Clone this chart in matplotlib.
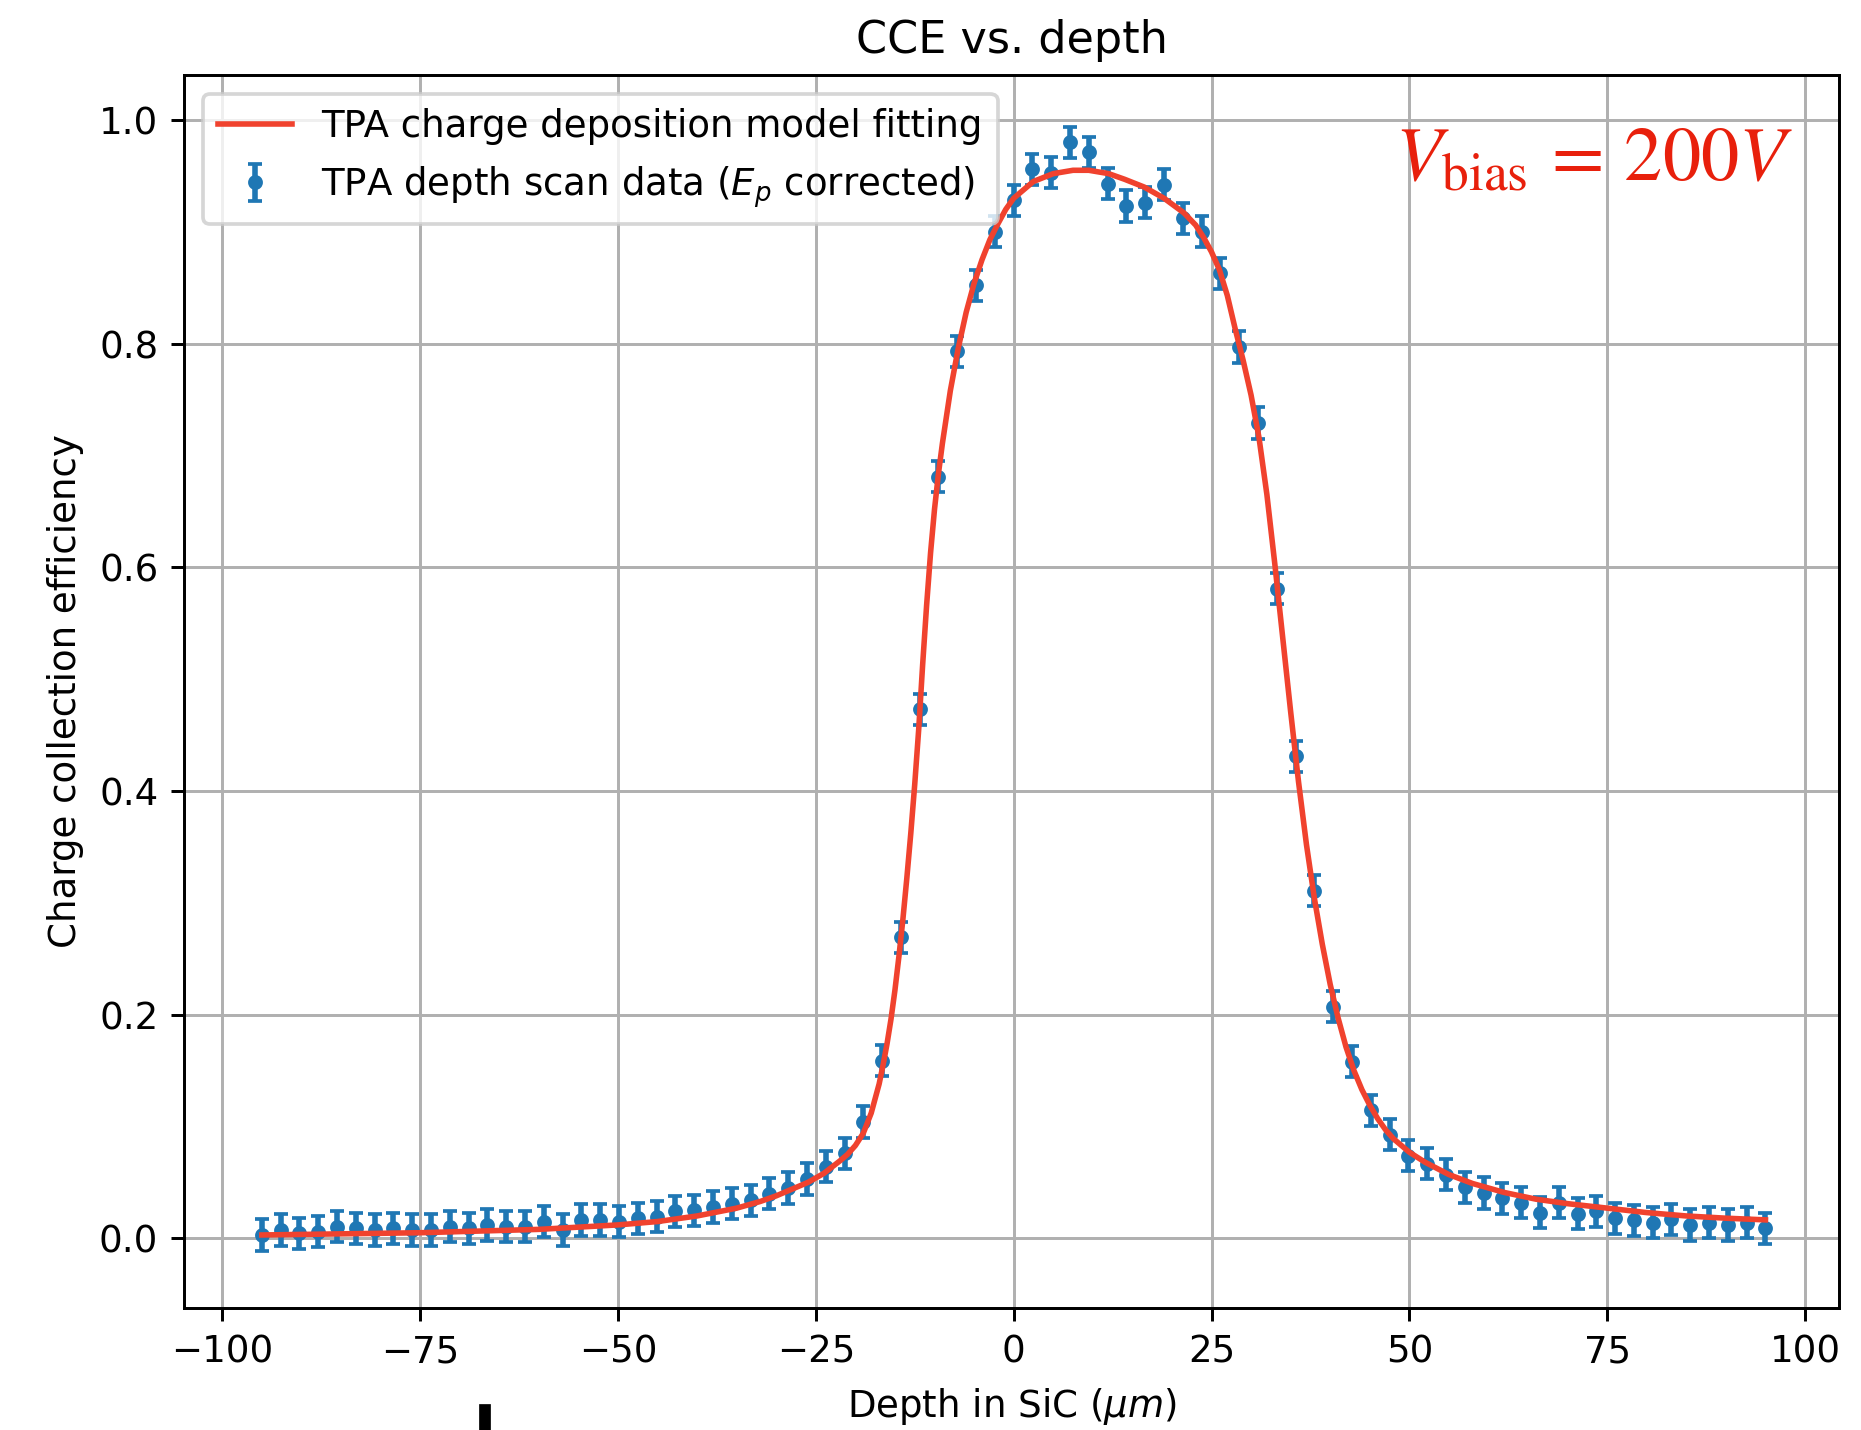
import matplotlib
matplotlib.use("Agg")
import matplotlib.pyplot as plt
from matplotlib.patches import Rectangle

# ---------------- data ----------------
depth = [-95, -92.625, -90.25, -87.875, -85.5, -83.125, -80.75, -78.375, -76, -73.625,
         -71.25, -68.875, -66.5, -64.125, -61.75, -59.375, -57, -54.625, -52.25, -49.875,
         -47.5, -45.125, -42.75, -40.375, -38, -35.625, -33.25, -30.875, -28.5, -26.125,
         -23.75, -21.375, -19, -16.625, -14.25, -11.875, -9.5, -7.125, -4.75, -2.375,
         0, 2.375, 4.75, 7.125, 9.5, 11.875, 14.25, 16.625, 19, 21.375,
         23.75, 26.125, 28.5, 30.875, 33.25, 35.625, 38, 40.375, 42.75, 45.125,
         47.5, 49.875, 52.25, 54.625, 57, 59.375, 61.75, 64.125, 66.5, 68.875,
         71.25, 73.625, 76, 78.375, 80.75, 83.125, 85.5, 87.875, 90.25, 92.625, 95]

cce = [0.003, 0.0075, 0.0045, 0.006, 0.0105, 0.009, 0.0075, 0.009, 0.0075, 0.0075,
       0.0105, 0.009, 0.012, 0.0105, 0.0105, 0.015, 0.0075, 0.0165, 0.0165, 0.015,
       0.018, 0.0195, 0.024, 0.025, 0.028, 0.031, 0.034, 0.040, 0.045, 0.053,
       0.064, 0.076, 0.104, 0.159, 0.269, 0.473, 0.681, 0.793, 0.852, 0.900,
       0.928, 0.956, 0.953, 0.980, 0.971, 0.943, 0.923, 0.926, 0.942, 0.912,
       0.900, 0.863, 0.797, 0.729, 0.581, 0.431, 0.311, 0.207, 0.158, 0.1145,
       0.0927, 0.0738, 0.0667, 0.0568, 0.0457, 0.0404, 0.0359, 0.032, 0.023, 0.032,
       0.022, 0.024, 0.018, 0.016, 0.014, 0.017, 0.012, 0.014, 0.012, 0.014, 0.009]

cce_err = 0.014

fit_depth = [-95, -90, -85, -80, -75, -70, -65, -60, -55, -50, -45, -40, -35, -32, -30,
             -28, -26, -24, -22, -21, -20, -19, -18, -17, -16.5, -16, -15.5, -15, -14.5,
             -14, -13.5, -13, -12.5, -12, -11.5, -11, -10.5, -10, -9.5, -9, -8, -7, -6,
             -5, -4, -3, -2, -1, 0, 2.5, 5, 7.5, 9.5, 12, 14, 16.5, 19, 21.5, 23, 24,
             25, 26, 27, 28, 29, 30, 31, 32, 33, 34, 35, 36, 37, 38, 39, 40, 41, 42,
             43, 44, 45, 46, 47, 48, 50, 52, 55, 58, 62, 66, 70, 75, 80, 85, 90, 95]

fit_cce = [0.003, 0.0035, 0.004, 0.0045, 0.005, 0.006, 0.007, 0.008, 0.010, 0.012, 0.015,
           0.020, 0.027, 0.033, 0.038, 0.044, 0.050, 0.058, 0.069, 0.075, 0.083, 0.094,
           0.112, 0.138, 0.155, 0.174, 0.196, 0.222, 0.252, 0.285, 0.322, 0.362, 0.406,
           0.455, 0.513, 0.566, 0.613, 0.652, 0.684, 0.711, 0.758, 0.796, 0.828, 0.854,
           0.875, 0.893, 0.907, 0.920, 0.930, 0.945, 0.952, 0.955, 0.955, 0.952, 0.947,
           0.940, 0.930, 0.917, 0.906, 0.895, 0.882, 0.866, 0.843, 0.813, 0.785, 0.754,
           0.716, 0.665, 0.603, 0.537, 0.471, 0.408, 0.352, 0.304, 0.263, 0.227, 0.197,
           0.171, 0.150, 0.133, 0.119, 0.107, 0.097, 0.089, 0.077, 0.068, 0.057, 0.049,
           0.041, 0.035, 0.031, 0.027, 0.023, 0.020, 0.018, 0.0165]

title = "CCE vs. depth"
xlabel = r"Depth in SiC ($\mu m$)"
ylabel = "Charge collection efficiency"
fit_label = "TPA charge deposition model fitting"
data_label = r"TPA depth scan data ($E_p$ corrected)"
annotation = r"$V_{\mathrm{bias}}\,=\,200V$"

# ---------------- figure ----------------
DPI = 266.9
fig = plt.figure(figsize=(1861 / DPI, 1430 / DPI), dpi=DPI)
ax = fig.add_axes([184.3 / 1861, 1 - 1308 / 1430,
                   (1839.3 - 184.3) / 1861, (1308 - 75) / 1430])

ax.errorbar(depth, cce, yerr=cce_err, fmt=".", color="#1f77b4",
            capsize=2, label=data_label, zorder=2)
ax.plot(fit_depth, fit_cce, color="#f0422e", lw=1.5, label=fit_label, zorder=3)

ax.set_xlim(-104.8, 104.33)
ax.set_ylim(-0.0623, 1.0402)
ax.set_xticks([-100, -75, -50, -25, 0, 25, 50, 75, 100])
ax.set_yticks([0.0, 0.2, 0.4, 0.6, 0.8, 1.0])
ax.grid(True)
ax.set_title(title)
ax.set_xlabel(xlabel)
ax.set_ylabel(ylabel)
ax.legend(loc="upper left")

fig.text(1395 / 1861, 1 - 180 / 1430, annotation, color="#e8200c",
         fontsize=20.6, math_fontfamily="stix", ha="left", va="baseline")

# small black mark present at the bottom of the reference image
fig.patches.append(Rectangle((481 / 1861, 0), 8 / 1861, 24 / 1430,
                             transform=fig.transFigure, color="black"))

fig.savefig("out.png", dpi=DPI)
